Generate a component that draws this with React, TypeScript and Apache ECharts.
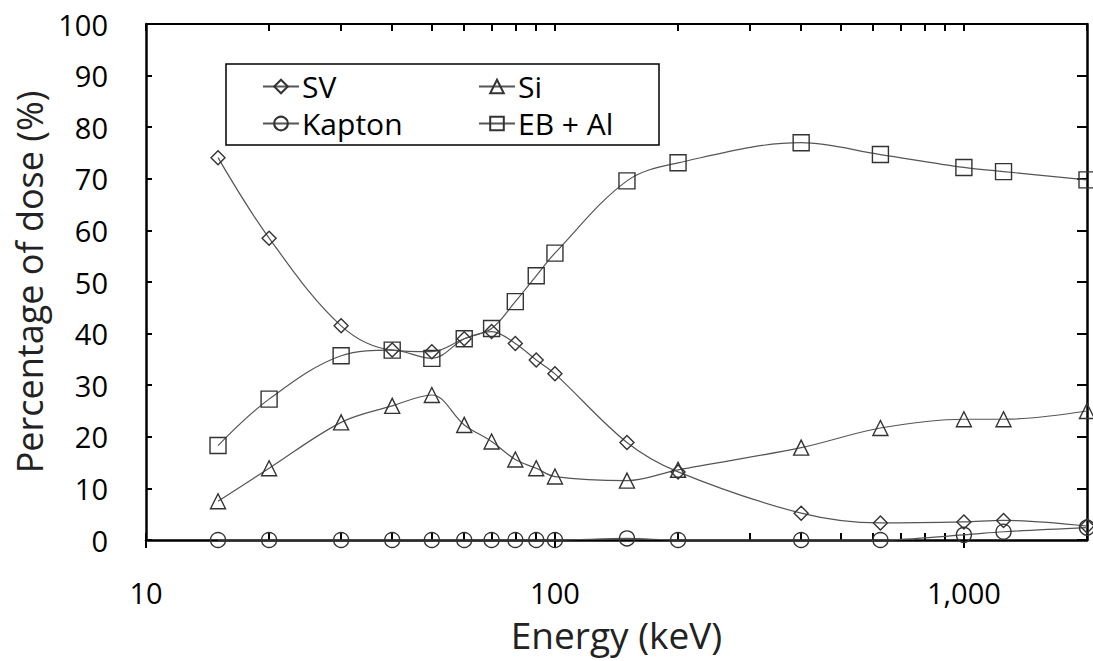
import React, { useEffect, useRef } from "react";
import * as echarts from "echarts";

const energies = [15, 20, 30, 40, 50, 60, 70, 80, 90, 100, 150, 200, 400, 625, 1000, 1250, 2000];
const svValues = [74.1, 58.5, 41.5, 36.8, 36.5, 39.0, 40.4, 38.1, 34.9, 32.2, 18.9, 13.2, 5.2, 3.3, 3.5, 3.8, 2.7];
const siValues = [7.5, 13.9, 22.8, 26.0, 28.1, 22.3, 19.1, 15.6, 13.9, 12.3, 11.5, 13.6, 17.9, 21.7, 23.4, 23.4, 25.0];
const kaptonValues = [0, 0, 0, 0, 0, 0, 0, 0, 0, 0, 0.3, 0, 0, 0, 1.0, 1.6, 2.4];
const ebAlValues = [18.3, 27.3, 35.7, 36.8, 35.2, 39.0, 41.0, 46.2, 51.2, 55.6, 69.6, 73.1, 77.0, 74.7, 72.2, 71.4, 69.8];

const majorTickValues = [10, 100, 1000];
const minorTickValues = [20, 30, 40, 50, 60, 70, 80, 90, 200, 300, 400, 500, 600, 700, 800, 900, 2000];

const FONT = "'Open Sans', sans-serif";

export default function App() {
  const ref = useRef<HTMLDivElement>(null);

  useEffect(() => {
    if (!ref.current) return;
    const chart = echarts.init(ref.current, undefined, { renderer: "svg" });

    const mk = (name: string, vals: number[], symbol: string, size: number) => ({
      name,
      type: "line",
      smooth: 0.35,
      clip: false,
      symbol,
      symbolSize: size,
      showAllSymbol: true,
      data: energies.map((e, i) => [e, vals[i]]),
      lineStyle: { color: "#555", width: 1.2 },
      itemStyle: { color: "rgba(255,255,255,0)", borderColor: "#333", borderWidth: 1.4 },
      emphasis: { disabled: true },
    });

    const legendCommon = {
      orient: "vertical",
      itemWidth: 36,
      itemHeight: 17,
      itemGap: 4,
      padding: 0,
      textStyle: { fontSize: 30, lineHeight: 33, color: "#000", fontFamily: FONT, padding: [0, 0, 0, -2] },
      selectedMode: false,
    };

    chart.setOption({
      animation: false,
      backgroundColor: "#fff",
      textStyle: { fontFamily: FONT },
      grid: { left: 146, right: 6, top: 24, bottom: 121, containLabel: false },
      legend: [
        { ...legendCommon, data: ["SV", "Kapton"], left: 262, top: 70 },
        { ...legendCommon, data: ["Si", "EB + Al"], left: 478, top: 70 },
      ],
      graphic: [
        {
          type: "rect",
          shape: { x: 226, y: 64, width: 433, height: 81 },
          style: { fill: "transparent", stroke: "#000", lineWidth: 1.5 },
          z: 10,
        },
      ],
      xAxis: [
        {
          type: "log",
          logBase: 10,
          min: 10,
          max: 2000,
          position: "bottom",
          axisLine: { show: true, onZero: false, lineStyle: { color: "#000", width: 2.5 } },
          axisTick: { show: true, inside: false, length: 8, customValues: majorTickValues, lineStyle: { color: "#000", width: 2 } },
          axisLabel: {
            customValues: majorTickValues,
            formatter: (v: number) => v.toLocaleString("en-US"),
            fontSize: 29,
            color: "#000",
            margin: 38,
            fontFamily: FONT,
          },
          splitLine: { show: false },
          name: "Energy (keV)",
          nameLocation: "middle",
          nameGap: 76,
          nameTextStyle: { fontSize: 37, color: "#222", fontFamily: FONT },
        },
        {
          type: "log",
          logBase: 10,
          min: 10,
          max: 2000,
          position: "bottom",
          axisLine: { show: false },
          axisTick: { show: true, inside: true, length: 7, customValues: [...majorTickValues, ...minorTickValues], lineStyle: { color: "#000", width: 2 } },
          axisLabel: { show: false },
          splitLine: { show: false },
        },
        {
          type: "log",
          logBase: 10,
          min: 10,
          max: 2000,
          position: "top",
          axisLine: { show: true, onZero: false, lineStyle: { color: "#000", width: 2 } },
          axisTick: { show: true, inside: true, length: 7, customValues: [...majorTickValues, ...minorTickValues], lineStyle: { color: "#000", width: 2 } },
          axisLabel: { show: false },
          splitLine: { show: false },
        },
      ],
      yAxis: [
        {
          type: "value",
          min: 0,
          max: 100,
          interval: 10,
          position: "left",
          axisLine: { show: true, onZero: false, lineStyle: { color: "#000", width: 2.5 } },
          axisTick: { show: true, inside: true, length: 6, lineStyle: { color: "#000", width: 2 } },
          axisLabel: { fontSize: 29, color: "#000", margin: 38, fontFamily: FONT },
          splitLine: { show: false },
          name: "Percentage of dose (%)",
          nameLocation: "middle",
          nameGap: 96,
          nameTextStyle: { fontSize: 36, color: "#222", fontFamily: FONT },
        },
        {
          type: "value",
          min: 0,
          max: 100,
          interval: 10,
          position: "right",
          axisLine: { show: true, onZero: false, lineStyle: { color: "#000", width: 2.5 } },
          axisTick: { show: true, inside: true, length: 10, lineStyle: { color: "#000", width: 2 } },
          axisLabel: { show: false },
          splitLine: { show: false },
        },
      ],
      series: [
        mk("SV", svValues, "diamond", 14),
        mk("Si", siValues, "triangle", 15),
        mk("Kapton", kaptonValues, "circle", 15),
        mk("EB + Al", ebAlValues, "rect", 16),
      ],
    });

    return () => chart.dispose();
  }, []);

  return (
    <div
      ref={ref}
      style={{ position: "fixed", left: 0, top: 0, width: 1093, height: 661, background: "#fff" }}
    />
  );
}
